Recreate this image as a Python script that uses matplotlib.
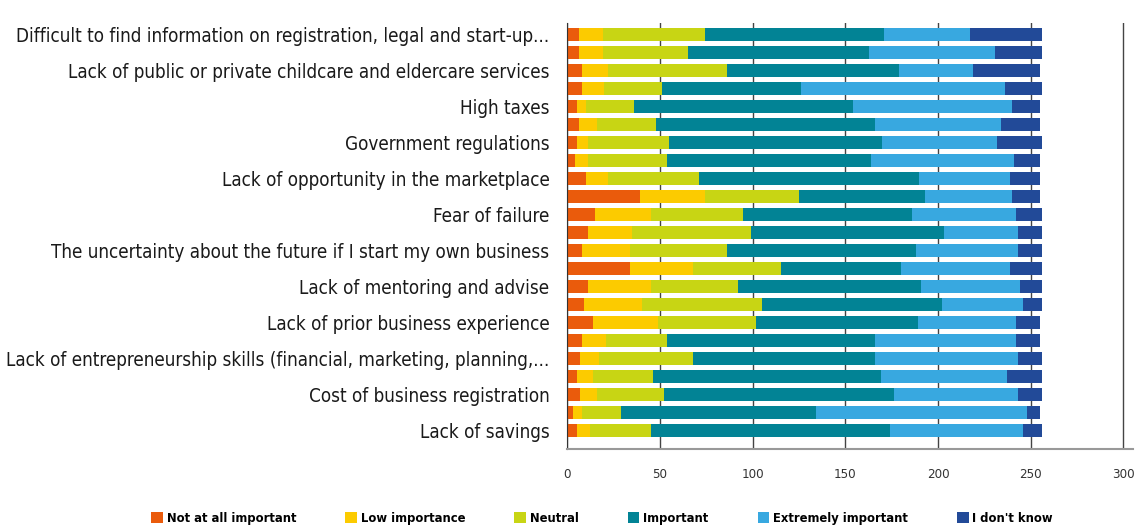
import matplotlib
matplotlib.use("Agg")
import matplotlib.pyplot as plt
import numpy as np

plt.rcParams['font.family'] = ['DejaVu Sans']
plt.rcParams['font.stretch'] = 'condensed'

# labels shown on every other bar, bottom to top
labels = [
    "Lack of savings",
    "Cost of business registration",
    "Lack of entrepreneurship skills (financial, marketing, planning,...",
    "Lack of prior business experience",
    "Lack of mentoring and advise",
    "The uncertainty about the future if I start my own business",
    "Fear of failure",
    "Lack of opportunity in the marketplace",
    "Government regulations",
    "High taxes",
    "Lack of public or private childcare and eldercare services",
    "Difficult to find information on registration, legal and start-up...",
]

series = ["Not at all important", "Low importance", "Neutral",
          "Important", "Extremely important", "I don't know"]
colors = ["#EA5B0C", "#FCCB00", "#C8D514", "#028395", "#38A8E0", "#224A98"]

# values listed top bar first (23 bars)
not_at_all = [6, 6, 8, 8, 5, 6, 5, 4, 10, 39, 15, 11, 8, 34, 11, 9, 14, 8, 7, 5, 7, 3, 5]
low        = [13, 13, 14, 12, 5, 10, 6, 7, 12, 35, 30, 24, 26, 34, 34, 31, 35, 13, 10, 9, 9, 5, 7]
neutral    = [55, 46, 64, 31, 26, 32, 44, 43, 49, 51, 50, 64, 52, 47, 47, 65, 53, 33, 51, 32, 36, 21, 33]
important  = [97, 98, 93, 75, 118, 118, 115, 110, 119, 68, 91, 104, 102, 65, 99, 97, 87, 112, 98, 123, 124, 105, 129]
extremely  = [46, 68, 40, 110, 86, 68, 62, 77, 49, 47, 56, 40, 55, 59, 53, 44, 53, 76, 77, 68, 67, 114, 72]
dont_know  = [39, 25, 36, 20, 15, 21, 24, 14, 16, 15, 14, 13, 13, 17, 12, 10, 13, 13, 13, 19, 13, 7, 10]

data = [not_at_all, low, neutral, important, extremely, dont_know]

fig = plt.figure(figsize=(11.36, 5.27), dpi=100)
ax = fig.add_axes([0.4995, 0.148, 0.4975, 0.808])

n = len(not_at_all)
y = np.arange(n)[::-1]
left = np.zeros(n)
for vals, col, name in zip(data, colors, series):
    vals = np.array(vals)
    ax.barh(y, vals, left=left, height=0.72, color=col, label=name, zorder=2)
    left += vals

ax.set_xlim(0, 305)
ax.set_ylim(-1.0, n - 0.4)
ax.set_xticks([0, 50, 100, 150, 200, 250, 300])
ax.set_yticks(np.arange(0, n, 2))
ax.set_yticklabels(labels, fontsize=13.5, color="#1a1a1a")
ax.tick_params(axis="y", length=0, pad=13)
ax.tick_params(axis="x", length=0, pad=14, labelsize=9.5, colors="#333333")
ax.grid(axis="x", color="#444444", lw=1, zorder=0)
for s in ["top", "right"]:
    ax.spines[s].set_visible(False)
ax.spines["left"].set_color("#333333")
ax.spines["bottom"].set_color("#999999")
ax.spines["bottom"].set_linewidth(1.5)

fig.legend(*ax.get_legend_handles_labels(), loc="lower center", ncol=6,
           bbox_to_anchor=(0.53, -0.018), frameon=False, handlelength=0.9,
           handleheight=0.9, handletextpad=0.3, columnspacing=3.8,
           prop={"weight": "bold", "size": 9.3, "stretch": "condensed"})

fig.savefig("out.png", dpi=100)
